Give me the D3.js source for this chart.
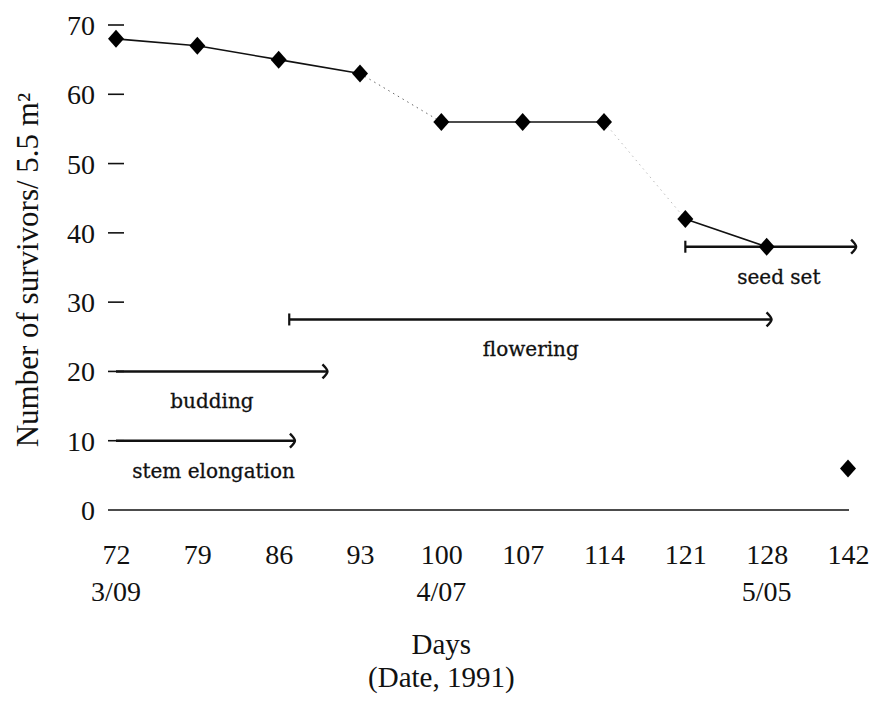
<!DOCTYPE html>
<html>
<head>
<meta charset="utf-8">
<script src="https://cdn.jsdelivr.net/npm/d3@7"></script>
<style>
    body { margin: 0; background: #fff; }
    svg { display: block; }
    text { fill: #111; }
</style>
</head>
<body>
<div id="chart"></div>
<script>
const width = 877
const height = 702

// --- Data ---
const days = [72, 79, 86, 93, 100, 107, 114, 121, 128, 142]
const survivors = [68, 67, 65, 63, 56, 56, 56, 42, 38, 6]
// how each segment between consecutive points is drawn
const segmentStyle = ["solid", "solid", "solid", "dotted", "solid", "solid", "faint", "solid", "none"]
const dateLabels = [
    { day: 72, label: "3/09" },
    { day: 100, label: "4/07" },
    { day: 128, label: "5/05" },
]
const yTicks = [0, 10, 20, 30, 40, 50, 60, 70]

// phases, in slot units along the day axis (slot i = days[i])
const phaseNames = ["stem elongation", "budding", "flowering", "seed set"]
const phaseLevel = [10, 20, 27.5, 38]
const phaseStart = [0, 0, 2.13, 7.0]
const phaseEnd = [2.2, 2.6, 8.06, 9.1]
const phaseLabelAt = [1.2, 1.18, 5.1, 8.15]
const phaseStartCap = [false, false, true, true]

const phases = phaseNames.map((name, i) => ({
    name,
    level: phaseLevel[i],
    start: phaseStart[i],
    end: phaseEnd[i],
    labelAt: phaseLabelAt[i],
    cap: phaseStartCap[i],
}))

const points = days.map((day, i) => ({ day, slot: i, val: survivors[i] }))

// --- Scales ---
const x = d3.scaleLinear().domain([0, days.length - 1]).range([116, 848])
const xDay = (day) => x(days.indexOf(day))
const y = d3.scaleLinear().domain([0, 70]).range([510, 25])

const svg = d3.select("#chart").append("svg").attr("width", width).attr("height", height)
svg.append("rect").attr("width", width).attr("height", height).attr("fill", "#fff")

const serif = "'Liberation Serif', 'Times New Roman', serif"

// --- Y axis: short dashes, no spine ---
const yAxis = d3.axisLeft(y).tickValues(yTicks).tickSize(0).tickPadding(0)
const yG = svg.append("g").attr("transform", "translate(95,0)").call(yAxis)
yG.select(".domain").remove()
yG.selectAll("text").attr("font-family", serif).attr("font-size", 28).attr("fill", "#111").attr("dy", "0.34em")

svg.selectAll(".ytick-dash")
    .data(yTicks.filter((t) => t > 0))
    .enter()
    .append("line")
    .attr("x1", 108)
    .attr("x2", 124)
    .attr("y1", (d) => y(d))
    .attr("y2", (d) => y(d))
    .attr("stroke", "#111")
    .attr("stroke-width", 1.6)

// zero baseline
svg.append("line")
    .attr("x1", 108)
    .attr("x2", x(days.length - 1) + 1)
    .attr("y1", y(0))
    .attr("y2", y(0))
    .attr("stroke", "#111")
    .attr("stroke-width", 1.6)

// --- X axis labels ---
const xAxis = d3.axisBottom(x).tickValues(d3.range(days.length)).tickFormat((i) => days[i]).tickSize(0).tickPadding(0)
const xG = svg.append("g").attr("transform", "translate(0,564)").call(xAxis)
xG.select(".domain").remove()
xG.selectAll("text").attr("font-family", serif).attr("font-size", 28).attr("fill", "#111").attr("dy", 0)

svg.selectAll(".date-label")
    .data(dateLabels)
    .enter()
    .append("text")
    .attr("x", (d) => xDay(d.day))
    .attr("y", 601)
    .attr("text-anchor", "middle")
    .attr("font-family", serif)
    .attr("font-size", 28)
    .text((d) => d.label)

svg.append("text")
    .attr("x", x(4))
    .attr("y", 654)
    .attr("text-anchor", "middle")
    .attr("font-family", serif)
    .attr("font-size", 29)
    .text("Days")

svg.append("text")
    .attr("x", x(4))
    .attr("y", 687)
    .attr("text-anchor", "middle")
    .attr("font-family", serif)
    .attr("font-size", 29)
    .text("(Date, 1991)")

svg.append("text")
    .attr("transform", `translate(38,${270}) rotate(-90)`)
    .attr("text-anchor", "middle")
    .attr("font-family", serif)
    .attr("font-size", 31)
    .text("Number of survivors/ 5.5 m²")

// --- Phase arrows ---
const phaseG = svg.selectAll(".phase").data(phases).enter().append("g").attr("class", "phase")

phaseG.append("line")
    .attr("x1", (d) => x(d.start))
    .attr("x2", (d) => x(d.end))
    .attr("y1", (d) => y(d.level))
    .attr("y2", (d) => y(d.level))
    .attr("stroke", "#111")
    .attr("stroke-width", 2.6)

phaseG.filter((d) => d.cap)
    .append("line")
    .attr("x1", (d) => x(d.start))
    .attr("x2", (d) => x(d.start))
    .attr("y1", (d) => y(d.level) - 6)
    .attr("y2", (d) => y(d.level) + 6)
    .attr("stroke", "#111")
    .attr("stroke-width", 2.2)

phaseG.append("path")
    .attr("d", (d) => {
        const ex = x(d.end)
        const ey = y(d.level)
        return `M${ex - 5},${ey - 7} Q${ex},${ey - 2} ${ex},${ey} Q${ex},${ey + 2} ${ex - 5},${ey + 7}`
    })
    .attr("fill", "none")
    .attr("stroke", "#111")
    .attr("stroke-width", 2.4)

phaseG.append("text")
    .attr("x", (d) => x(d.labelAt))
    .attr("y", (d) => y(d.level) + 37)
    .attr("text-anchor", "middle")
    .attr("font-family", "'DejaVu Serif', serif")
    .attr("font-size", 20)
    .attr("stroke", "#111")
    .attr("stroke-width", 0.3)
    .text((d) => d.name)

// --- Survivor series ---
const segments = d3.pairs(points).map(([a, b], i) => ({ a, b, style: segmentStyle[i] }))

svg.selectAll(".seg")
    .data(segments.filter((s) => s.style !== "none"))
    .enter()
    .append("line")
    .attr("x1", (s) => x(s.a.slot))
    .attr("y1", (s) => y(s.a.val))
    .attr("x2", (s) => x(s.b.slot))
    .attr("y2", (s) => y(s.b.val))
    .attr("stroke", (s) => (s.style === "solid" ? "#111" : s.style === "dotted" ? "#666" : "#bbb"))
    .attr("stroke-width", (s) => (s.style === "solid" ? 1.6 : 1))
    .attr("stroke-dasharray", (s) => (s.style === "solid" ? null : "1.5,4"))

svg.selectAll(".pt")
    .data(points)
    .enter()
    .append("path")
    .attr("transform", (d) => `translate(${x(d.slot)},${y(d.val)})`)
    .attr("d", "M0,-9L8,0L0,9L-8,0Z")
    .attr("fill", "#000")
</script>
</body>
</html>
